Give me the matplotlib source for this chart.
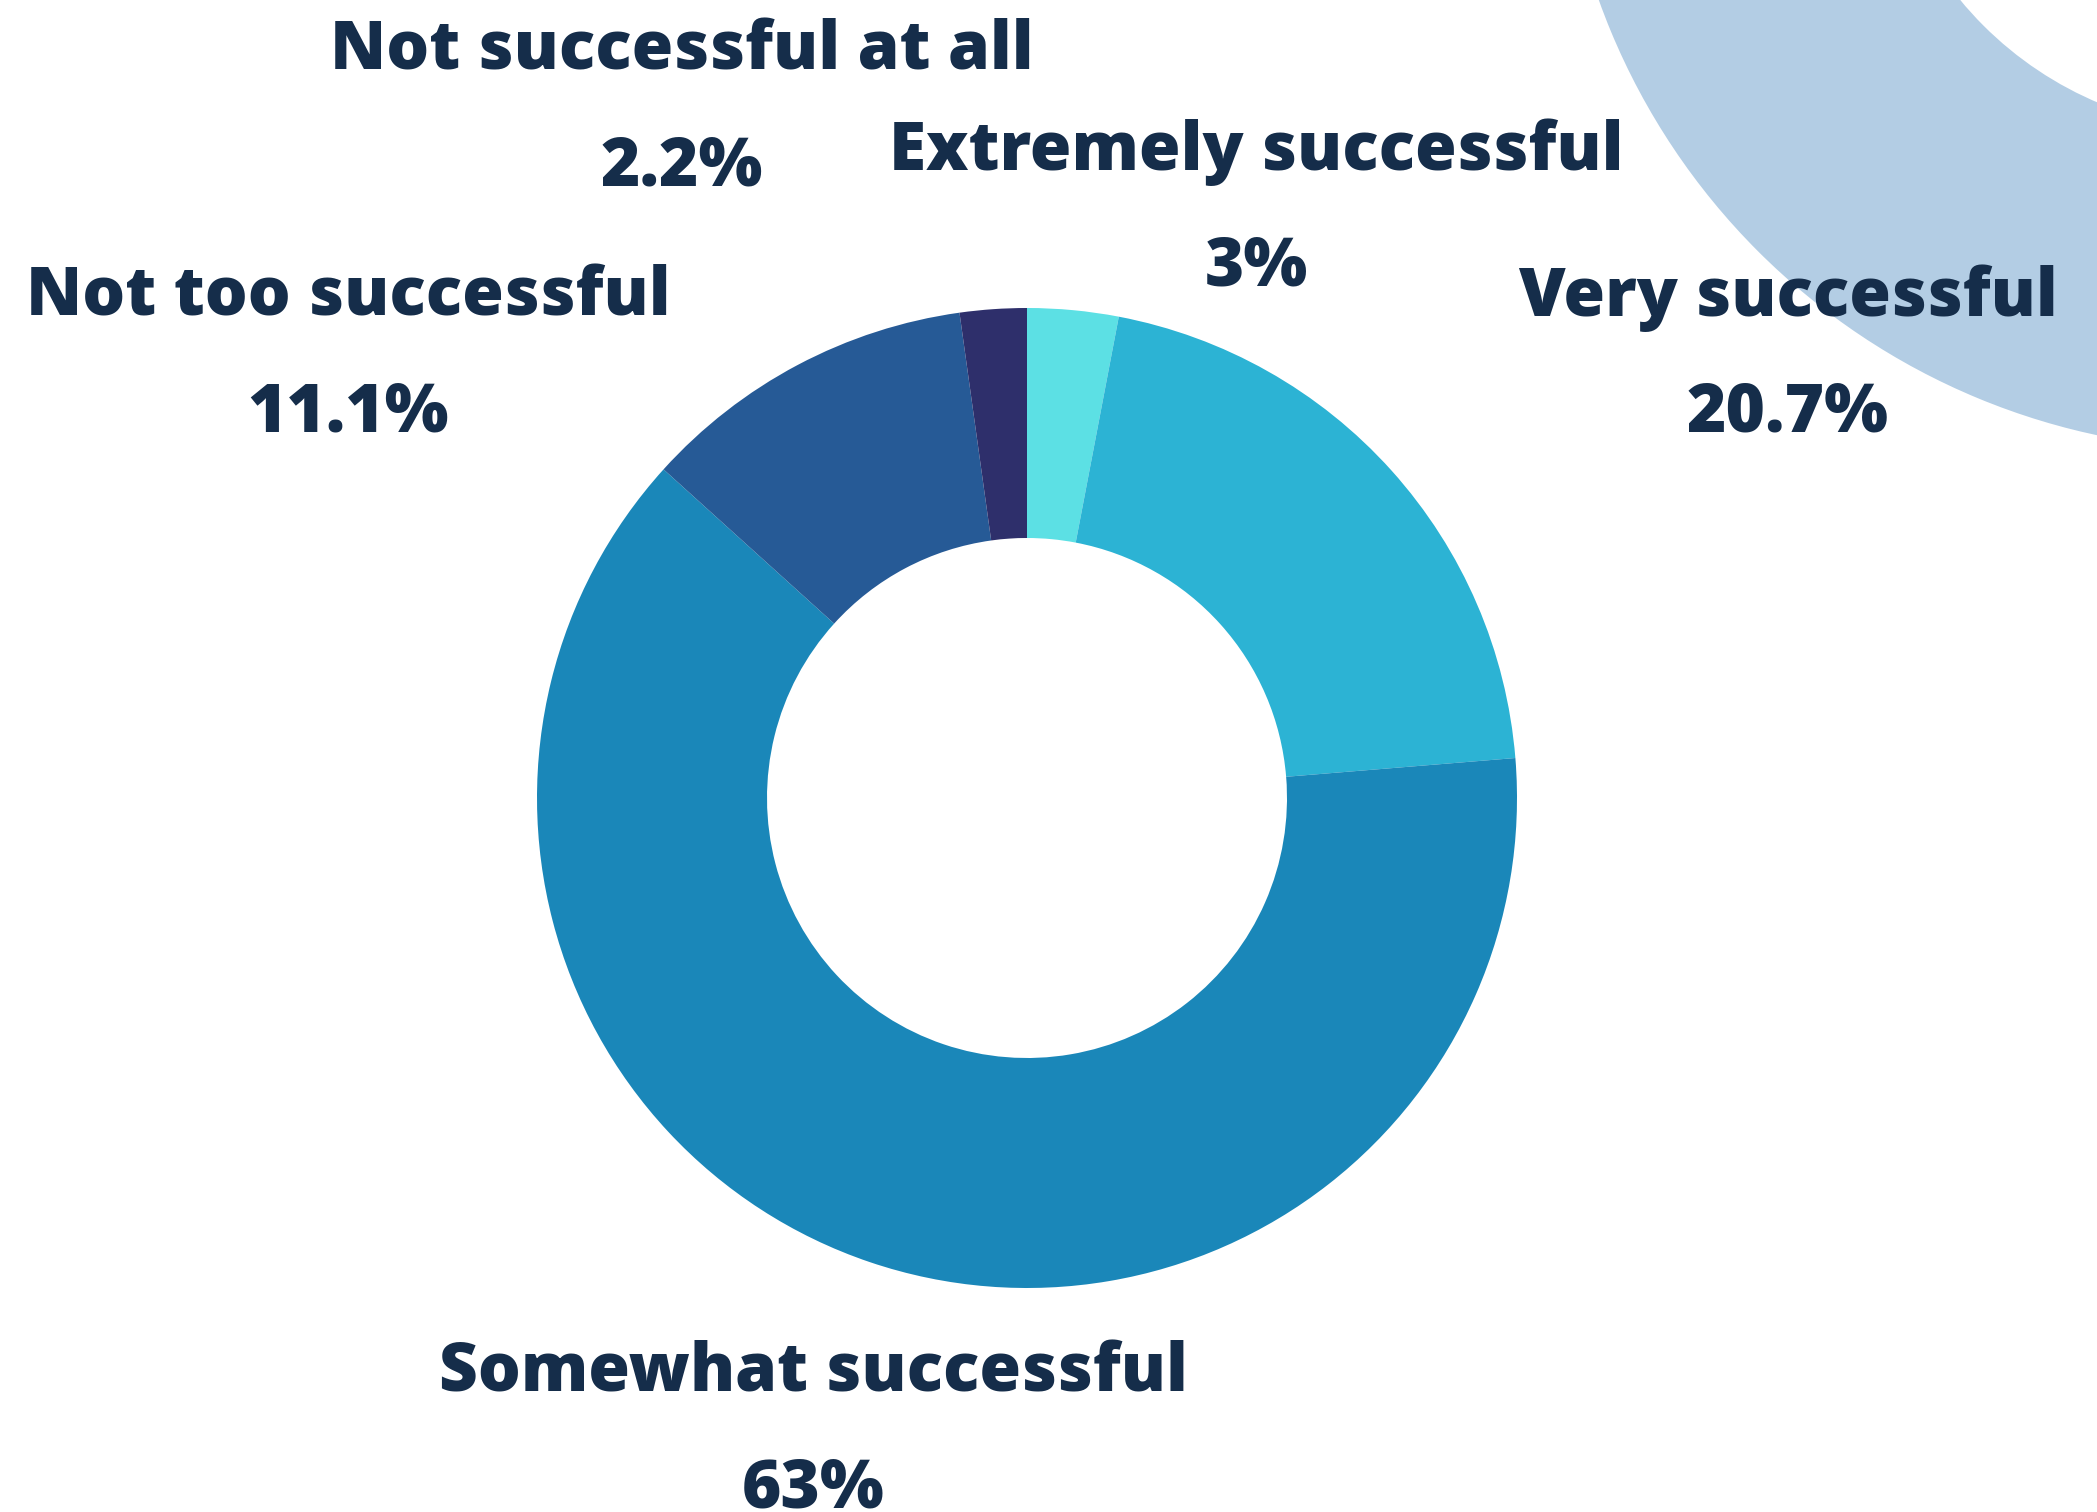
import matplotlib
matplotlib.use("Agg")
import matplotlib.pyplot as plt
from matplotlib.patches import Wedge

# survey answers, clockwise from 12 o'clock
categories = ["Extremely successful", "Very successful", "Somewhat successful",
              "Not too successful", "Not successful at all"]
shares = [3.0, 20.7, 63.0, 11.1, 2.2]
pct_labels = ["3%", "20.7%", "63%", "11.1%", "2.2%"]
colors = ["#5ce0e4", "#2cb3d4", "#1a87b9", "#265a96", "#2e2f6b"]

W, H = 2097, 1512
TEXT = "#152d4a"

# label anchor points (pixels from top-left): x, baseline of title line
label_pos = [(1256, 170), (1788, 316), (813, 1392), (348, 316), (682, 70)]
line_gap = 115


def main():
    fig = plt.figure(figsize=(W / 100, H / 100), dpi=100)
    fig.patch.set_facecolor("white")
    ax = fig.add_axes([0, 0, 1, 1])
    ax.set_xlim(0, W)
    ax.set_ylim(0, H)
    ax.set_aspect("equal")
    ax.axis("off")

    # decorative ring in the top right corner
    ax.add_patch(Wedge((2238, H + 229), 679, 0, 360, width=319,
                       facecolor="#b3cde4", edgecolor="none", zorder=0))

    ax.pie(shares, colors=colors, startangle=90, counterclock=False,
           center=(1027, H - 798), radius=490,
           wedgeprops=dict(width=230, edgecolor="none", zorder=2))
    ax.set_xlim(0, W)
    ax.set_ylim(0, H)

    font = dict(family=["Open Sans", "DejaVu Sans"], weight="heavy",
                color=TEXT, fontsize=48.5, ha="center", va="baseline", zorder=5)
    for name, pct, (x, y) in zip(categories, pct_labels, label_pos):
        ax.text(x, H - y, name, **font)
        ax.text(x, H - y - line_gap, pct, **font)

    fig.savefig("out.png", dpi=100)


if __name__ == "__main__":
    main()
